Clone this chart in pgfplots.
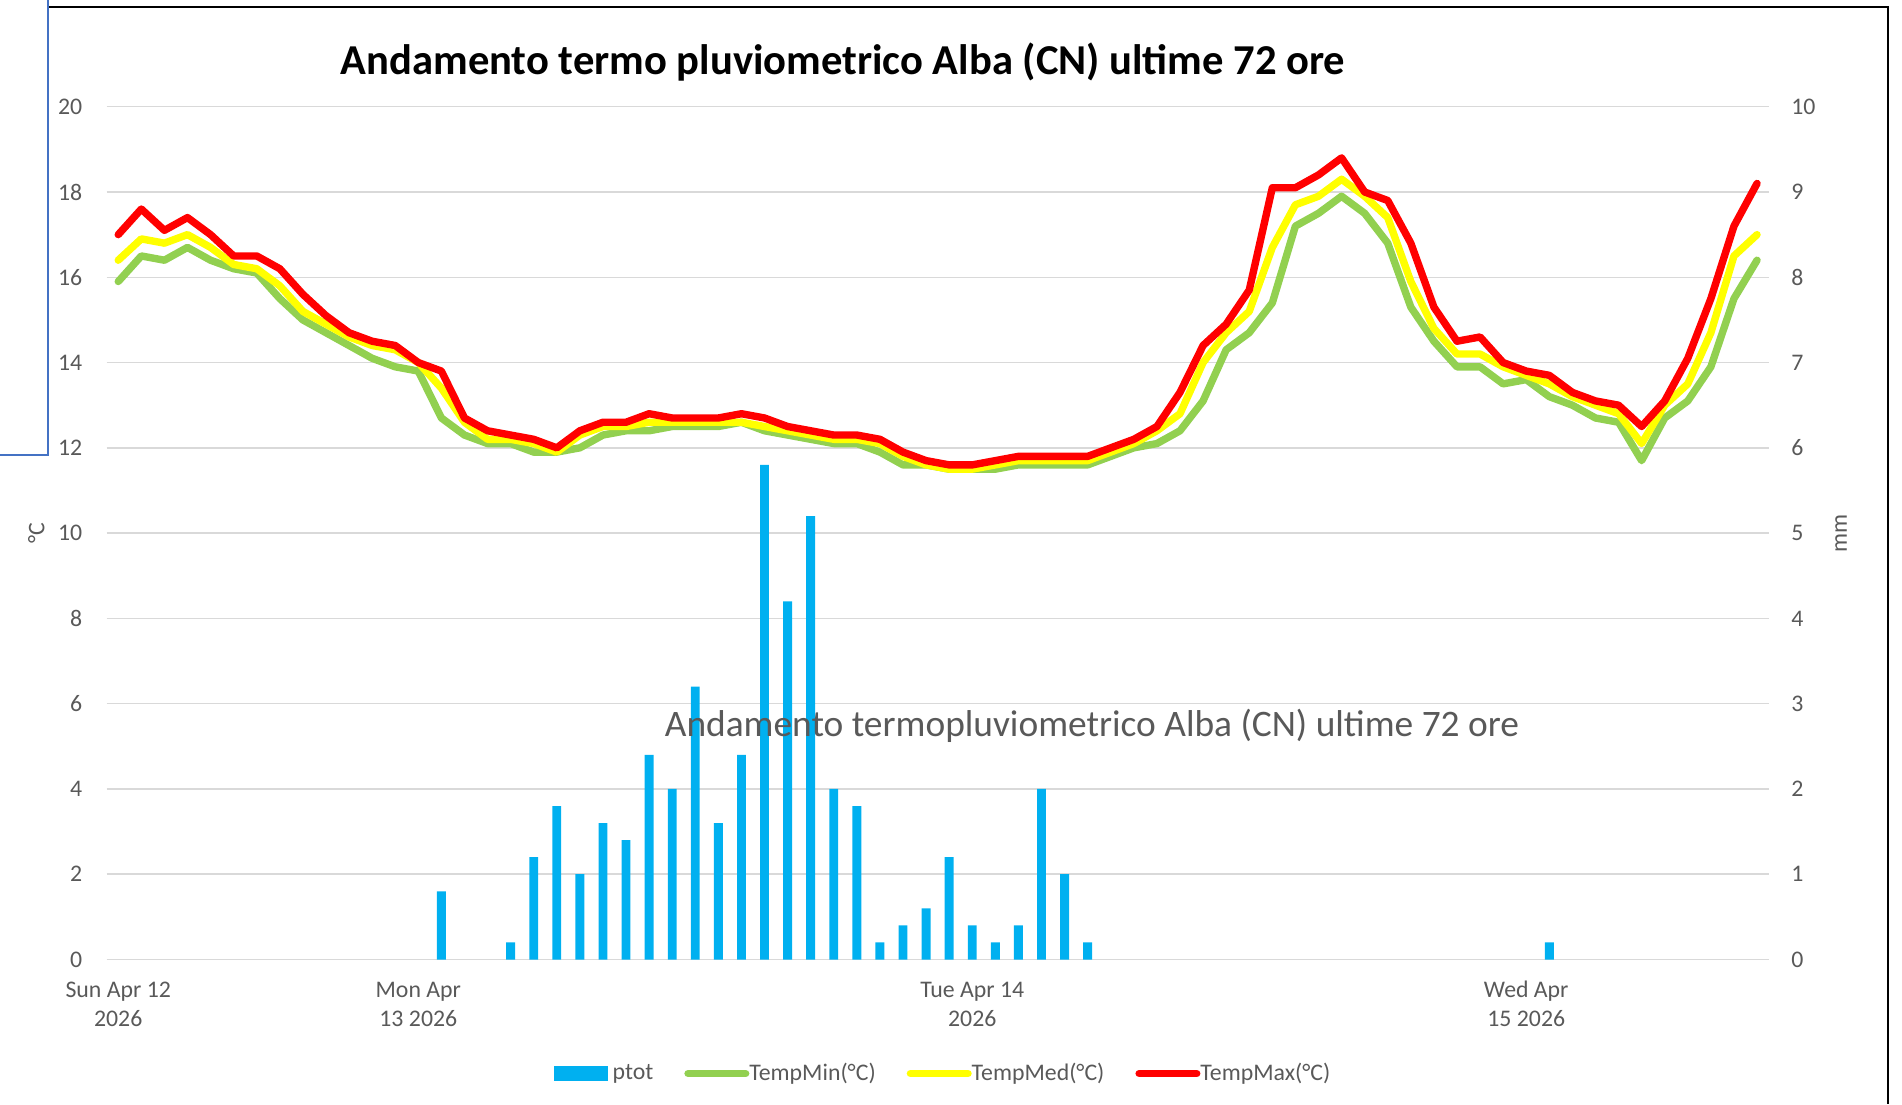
\documentclass[border=0pt]{standalone}
\usepackage{fontspec}
\setmainfont{Carlito}
\usepackage{pgfplots}
\pgfplotsset{compat=1.18}
\usepackage{pgfplotstable}
\definecolor{cbar}{HTML}{00B0F0}
\definecolor{cmin}{HTML}{92D050}
\definecolor{cmed}{HTML}{FFFF00}
\definecolor{cmax}{HTML}{FF0000}
\definecolor{ctext}{HTML}{595959}
\definecolor{cgrid}{HTML}{D9D9D9}
\definecolor{csel}{HTML}{4472C4}

\pgfplotstableread{
i tmin tmed tmax
0 15.9 16.4 17.0
1 16.5 16.9 17.6
2 16.4 16.8 17.1
3 16.7 17.0 17.4
4 16.4 16.7 17.0
5 16.2 16.3 16.5
6 16.1 16.2 16.5
7 15.5 15.8 16.2
8 15.0 15.2 15.6
9 14.7 14.9 15.1
10 14.4 14.6 14.7
11 14.1 14.4 14.5
12 13.9 14.3 14.4
13 13.8 14.0 14.0
14 12.7 13.4 13.8
15 12.3 12.6 12.7
16 12.1 12.2 12.4
17 12.1 12.2 12.3
18 11.9 12.1 12.2
19 11.9 11.9 12.0
20 12.0 12.3 12.4
21 12.3 12.5 12.6
22 12.4 12.5 12.6
23 12.4 12.6 12.8
24 12.5 12.6 12.7
25 12.5 12.6 12.7
26 12.5 12.6 12.7
27 12.6 12.6 12.8
28 12.4 12.5 12.7
29 12.3 12.4 12.5
30 12.2 12.3 12.4
31 12.1 12.2 12.3
32 12.1 12.2 12.3
33 11.9 12.1 12.2
34 11.6 11.8 11.9
35 11.6 11.6 11.7
36 11.5 11.5 11.6
37 11.5 11.5 11.6
38 11.5 11.6 11.7
39 11.6 11.7 11.8
40 11.6 11.7 11.8
41 11.6 11.7 11.8
42 11.6 11.7 11.8
43 11.8 11.9 12.0
44 12.0 12.1 12.2
45 12.1 12.4 12.5
46 12.4 12.8 13.3
47 13.1 14.0 14.4
48 14.3 14.7 14.9
49 14.7 15.2 15.7
50 15.4 16.7 18.1
51 17.2 17.7 18.1
52 17.5 17.9 18.4
53 17.9 18.3 18.8
54 17.5 17.9 18.0
55 16.8 17.4 17.8
56 15.3 15.9 16.8
57 14.5 14.8 15.3
58 13.9 14.2 14.5
59 13.9 14.2 14.6
60 13.5 13.9 14.0
61 13.6 13.7 13.8
62 13.2 13.5 13.7
63 13.0 13.2 13.3
64 12.7 13.0 13.1
65 12.6 12.8 13.0
66 11.7 12.1 12.5
67 12.7 13.0 13.1
68 13.1 13.5 14.1
69 13.9 14.7 15.5
70 15.5 16.5 17.2
71 16.4 17.0 18.2
}\temps

\pgfplotstableread{
i p
14 0.8
17 0.2
18 1.2
19 1.8
20 1.0
21 1.6
22 1.4
23 2.4
24 2.0
25 3.2
26 1.6
27 2.4
28 5.8
29 4.2
30 5.2
31 2.0
32 1.8
33 0.2
34 0.4
35 0.6
36 1.2
37 0.4
38 0.2
39 0.4
40 2.0
41 1.0
42 0.2
62 0.2
}\rain

\newcommand{\tickfont}{\fontsize{11.9}{14.5}\selectfont}

\begin{document}
\begin{tikzpicture}
\pgfplotsset{
  common/.style={
    at={(53.35pt,-479.75pt)}, anchor=south west,
    scale only axis, width=830.95pt, height=426.4pt,
    xmin=-0.5, xmax=71.5,
    axis line style={draw=none},
    major tick length=0pt,
    tick label style={font=\tickfont, text=ctext},
    /pgf/number format/assume math mode=true,
  }
}
% rain axis (right, mm)
\begin{axis}[common,
  ymin=0, ymax=10, ytick={0,1,...,10},
  axis y line*=right,
  xtick=\empty,
  ymajorgrids, grid style={cgrid, line width=0.75pt},
  yticklabel style={anchor=west, inner sep=0pt, xshift=11.2pt},
  every axis y label/.style={at={(axis description cs:1.0436,0.5)}, rotate=90, anchor=center, font=\tickfont, text=ctext},
  ylabel={mm},
]
\addplot[ybar, bar width=4.45pt, fill=cbar, draw=none] table[x=i, y=p] {\rain};
\end{axis}
% temperature axis (left, degC)
\begin{axis}[common,
  ymin=0, ymax=20, ytick={0,2,...,20},
  axis y line*=left,
  xtick={0,13,37,61},
  xticklabels={{\strut Sun Apr 12\\2026},{\strut Mon Apr\\13 2026},{\strut Tue Apr 14\\2026},{\strut Wed Apr\\15 2026}},
  xticklabel style={align=center, anchor=north, inner sep=0pt, yshift=-8.8pt},
  yticklabel style={anchor=east, inner sep=0pt, xshift=-12pt},
  every axis y label/.style={at={(axis description cs:-0.0423,0.5)}, rotate=90, anchor=center, font=\tickfont, text=ctext},
  ylabel={°C},
  legend columns=4,
  legend image code/.code={\path (0pt,0pt) -- (28.8pt,0pt); \draw[#1] (1.85pt,0pt) -- (26.05pt,0pt);},
  legend style={at={(0.2691,-0.1337)}, anchor=west, draw=none, fill=none, inner sep=0pt,
    font=\tickfont, text=ctext,
    nodes={inner sep=0pt},
    /tikz/every odd column/.append style={column sep=0pt},
    /tikz/every even column/.append style={column sep=15.5pt}},
]
\addlegendimage{legend image code/.code={\fill[cbar] (0pt,-3.5pt) rectangle (26.25pt,3.5pt); \path (28.8pt,0pt);}}
\addlegendentry{ptot}
\addplot[cmin, line width=3.7pt, line join=round, line cap=round] table[x=i, y=tmin] {\temps};
\addlegendentry{TempMin(°C)}
\addplot[cmed, line width=3.7pt, line join=round, line cap=round] table[x=i, y=tmed] {\temps};
\addlegendentry{TempMed(°C)}
\addplot[cmax, line width=3.7pt, line join=round, line cap=round] table[x=i, y=tmax] {\temps};
\addlegendentry{TempMax(°C)}
\end{axis}
% titles
\node[anchor=base, font=\fontsize{21.3}{25}\selectfont\bfseries] at (421.5pt,-37pt) {Andamento termo pluviometrico Alba (CN) ultime 72 ore};
\node[anchor=base, text=ctext, font=\fontsize{18.7}{22}\selectfont] at (546pt,-368.3pt) {Andamento termopluviometrico Alba (CN) ultime 72 ore};
% frame and selection lines
\draw[black, line width=1pt] (24pt,-3.65pt) -- (944pt,-3.65pt) -- (944pt,-552pt);
\draw[csel, line width=0.8pt] (24pt,0pt) -- (24pt,-227.5pt) -- (0pt,-227.5pt);
\pgfresetboundingbox
\path[use as bounding box] (0pt,0pt) rectangle (951pt,-552pt);
\end{tikzpicture}
\end{document}
